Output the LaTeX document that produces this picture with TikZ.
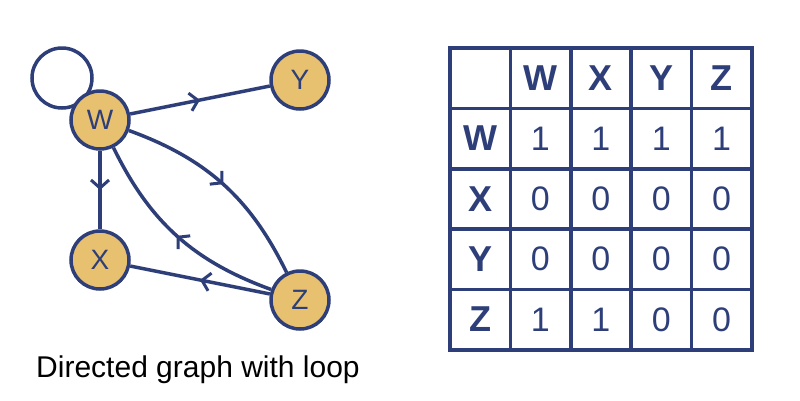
\documentclass[tikz,border=0pt]{standalone}
\usepackage{fontspec}
\setmainfont{Liberation Sans}
\usetikzlibrary{arrows.meta,decorations.markings}
\definecolor{navy}{HTML}{2D3E78}
\definecolor{gold}{HTML}{E8C170}
\begin{document}
\begin{tikzpicture}[x=1pt,y=-1pt,
  vert/.style={circle,draw=navy,fill=gold,line width=3.5pt,minimum size=58pt,inner sep=0pt,font=\fontsize{28}{28}\selectfont,text=navy},
  edge/.style={draw=navy,line width=3.5pt,postaction={decorate},decoration={markings,mark=at position 0.5 with {\arrow{Straight Barb[length=8pt,width=18pt,line width=3pt]}}}},
  cell/.style={font=\fontsize{34}{34}\selectfont,text=navy},
  head/.style={font=\bfseries\fontsize{36}{36}\selectfont,text=navy}]
\useasboundingbox (0,0) rectangle (800,400);
\draw[navy,line width=3.5pt] (62,78) circle (30);
\node[vert] (W) at (100,120) {W};
\node[vert] (Y) at (300,80) {Y};
\node[vert] (X) at (100,260) {X};
\node[vert] (Z) at (300,300) {Z};
\path[edge] (W) -- (Y);
\path[edge] (W) -- (X);
\path[edge] (Z) -- (X);
\path[edge] (W) to[bend left=22] (Z);
\path[edge] (Z) to[bend left=22] (W);
\node[font=\fontsize{30}{30}\selectfont] (cap) at (198,370) {Directed graph with loop};
\foreach \i in {0,...,5}{
  \draw[navy,line width=3.5pt,line cap=rect] (450+60.4*\i,48) -- (450+60.4*\i,350);
  \draw[navy,line width=3.5pt,line cap=rect] (450,48+60.4*\i) -- (752,48+60.4*\i);
}
\foreach \l [count=\i] in {W,X,Y,Z}{
  \node[head] (c\i) at (450+60.4*\i+30,78) {\l};
  \node[head] (r\i) at (480,78+60.4*\i) {\l};
}
\foreach \row [count=\r] in {{1,1,1,1},{0,0,0,0},{0,0,0,0},{1,1,0,0}}{
  \foreach \v [count=\c] in \row {
    \node[cell] (v\r\c) at (450+60.4*\c+30,78+60.4*\r) {\v};
  }
}
\end{tikzpicture}
\end{document}
